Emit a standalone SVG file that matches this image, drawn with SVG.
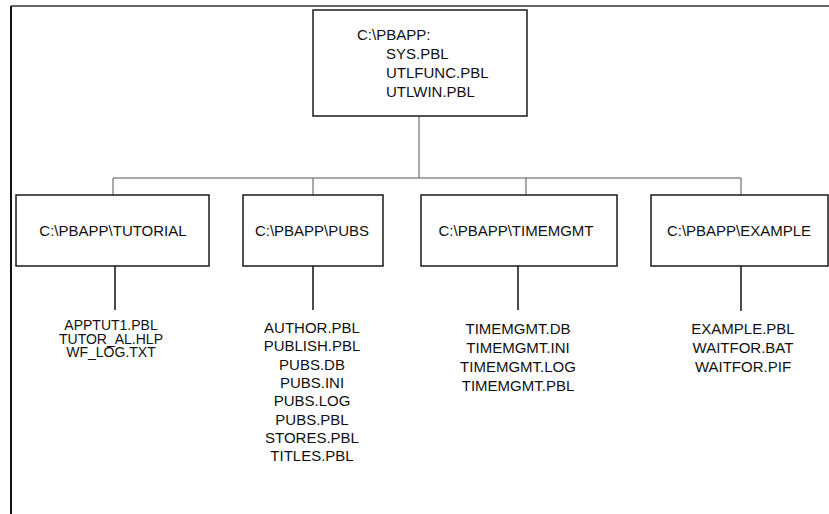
<svg xmlns="http://www.w3.org/2000/svg" width="829" height="514" viewBox="0 0 829 514">
<style>
.box{fill:#fff;stroke:#1a1a1a;stroke-width:1.5}
.t{font-family:"Liberation Sans",Arial,sans-serif;font-size:15px;fill:#111}
.c{text-anchor:middle}
.s{font-size:14px}
.thin{stroke:#555;stroke-width:1;fill:none}
.dark{stroke:#111;stroke-width:1.5;fill:none}
</style>
<rect width="829" height="514" fill="#fff"/>
<g id="frame">
<line x1="11" y1="6" x2="829" y2="6" stroke="#333" stroke-width="1.5"/>
<line x1="11" y1="6" x2="11" y2="514" stroke="#111" stroke-width="2"/>
</g>
<g id="connectors">
<line class="thin" x1="419" y1="116" x2="419" y2="178"/>
<line class="thin" x1="113" y1="178" x2="741" y2="178"/>
<line class="thin" x1="113" y1="178" x2="113" y2="195"/>
<line class="thin" x1="313" y1="178" x2="313" y2="195"/>
<line class="thin" x1="526" y1="178" x2="526" y2="195"/>
<line class="thin" x1="741" y1="178" x2="741" y2="195"/>
<line class="dark" x1="115" y1="266" x2="115" y2="310"/>
<line class="dark" x1="313" y1="266" x2="313" y2="310"/>
<line class="dark" x1="518" y1="266" x2="518" y2="310"/>
<line class="dark" x1="741" y1="266" x2="741" y2="311"/>
</g>
<g id="root">
<rect class="box" x="313" y="10" width="214" height="106"/>
<text class="t" x="357" y="40">C:\PBAPP:</text>
<text class="t" x="386" y="59">SYS.PBL</text>
<text class="t" x="386" y="78">UTLFUNC.PBL</text>
<text class="t" x="386" y="97">UTLWIN.PBL</text>
</g>
<g id="tutorial">
<rect class="box" x="16" y="195" width="193" height="71"/>
<text class="t c" x="113" y="236">C:\PBAPP\TUTORIAL</text>
</g>
<g id="pubs">
<rect class="box" x="243" y="195" width="140" height="71"/>
<text class="t c" x="312" y="236">C:\PBAPP\PUBS</text>
</g>
<g id="timemgmt">
<rect class="box" x="421" y="195" width="196" height="71"/>
<text class="t c" x="516" y="236">C:\PBAPP\TIMEMGMT</text>
</g>
<g id="example">
<rect class="box" x="651" y="195" width="177" height="71"/>
<text class="t c" x="739" y="236">C:\PBAPP\EXAMPLE</text>
</g>
<g id="tutorial-files">
<text class="t c s" x="111" y="330">APPTUT1.PBL</text>
<text class="t c s" x="111" y="343.5">TUTOR_AL.HLP</text>
<text class="t c s" x="111" y="357">WF_LOG.TXT</text>
</g>
<g id="pubs-files">
<text class="t c" x="312" y="333">AUTHOR.PBL</text>
<text class="t c" x="312" y="351.3">PUBLISH.PBL</text>
<text class="t c" x="312" y="369.6">PUBS.DB</text>
<text class="t c" x="312" y="387.9">PUBS.INI</text>
<text class="t c" x="312" y="406.2">PUBS.LOG</text>
<text class="t c" x="312" y="424.5">PUBS.PBL</text>
<text class="t c" x="312" y="442.8">STORES.PBL</text>
<text class="t c" x="312" y="461.1">TITLES.PBL</text>
</g>
<g id="timemgmt-files">
<text class="t c" x="518" y="334">TIMEMGMT.DB</text>
<text class="t c" x="518" y="353">TIMEMGMT.INI</text>
<text class="t c" x="518" y="372">TIMEMGMT.LOG</text>
<text class="t c" x="518" y="391">TIMEMGMT.PBL</text>
</g>
<g id="example-files">
<text class="t c" x="743" y="334">EXAMPLE.PBL</text>
<text class="t c" x="743" y="353">WAITFOR.BAT</text>
<text class="t c" x="743" y="372">WAITFOR.PIF</text>
</g>
</svg>
